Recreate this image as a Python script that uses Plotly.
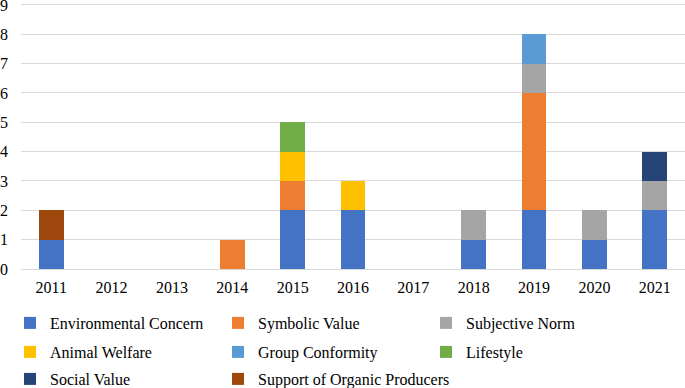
import plotly.graph_objects as go

years = ["2011", "2012", "2013", "2014", "2015", "2016", "2017", "2018", "2019", "2020", "2021"]
environmental_concern = [1, 0, 0, 0, 2, 2, 0, 1, 2, 1, 2]
symbolic_value = [0, 0, 0, 1, 1, 0, 0, 0, 4, 0, 0]
subjective_norm = [0, 0, 0, 0, 0, 0, 0, 1, 1, 1, 1]
animal_welfare = [0, 0, 0, 0, 1, 1, 0, 0, 0, 0, 0]
group_conformity = [0, 0, 0, 0, 0, 0, 0, 0, 1, 0, 0]
lifestyle = [0, 0, 0, 0, 1, 0, 0, 0, 0, 0, 0]
social_value = [0, 0, 0, 0, 0, 0, 0, 0, 0, 0, 1]
support_organic = [1, 0, 0, 0, 0, 0, 0, 0, 0, 0, 0]
y_ticks = [0, 1, 2, 3, 4, 5, 6, 7, 8, 9]

series = [
    ("Environmental Concern", environmental_concern, "#4472C4", "legend"),
    ("Symbolic Value", symbolic_value, "#ED7D31", "legend"),
    ("Subjective Norm", subjective_norm, "#A5A5A5", "legend"),
    ("Animal Welfare", animal_welfare, "#FFC000", "legend2"),
    ("Group Conformity", group_conformity, "#5B9BD5", "legend2"),
    ("Lifestyle", lifestyle, "#70AD47", "legend2"),
    ("Social Value", social_value, "#264478", "legend3"),
    ("Support of Organic Producers", support_organic, "#9E480E", "legend4"),
]

fig = go.Figure()
for name, vals, color, lg in series:
    fig.add_trace(go.Bar(
        x=years, y=vals, name=name, legend=lg,
        marker=dict(color=color, line=dict(width=0)),
    ))

font = dict(family="Liberation Serif", size=16, color="#000000")


def legend_row(y_center, x_left=10, entrywidth=163):
    return dict(
        orientation="h",
        xref="container", x=x_left / 685, xanchor="left",
        yref="container", y=1 - y_center / 388, yanchor="middle",
        entrywidth=entrywidth, entrywidthmode="pixels",
        font=font,
        traceorder="normal",
        itemwidth=30,
        bgcolor="rgba(0,0,0,0)",
    )


fig.update_layout(
    barmode="stack",
    bargap=0.59,
    width=685, height=388,
    margin=dict(l=21, r=0, t=2, b=119, autoexpand=False),
    paper_bgcolor="white", plot_bgcolor="white",
    font=font,
    showlegend=True,
    legend=legend_row(323),
    legend2=legend_row(352),
    legend3=legend_row(379),
    legend4=legend_row(379, x_left=218, entrywidth=0),
    xaxis=dict(
        type="category",
        showgrid=False,
        showline=False,
        ticks="",
        ticklabelstandoff=7,
        tickfont=font,
    ),
    yaxis=dict(
        range=[0, 9.1],
        tickvals=y_ticks,
        showgrid=True,
        gridcolor="#D9D9D9",
        gridwidth=1,
        zeroline=True,
        zerolinecolor="#D9D9D9",
        zerolinewidth=1,
        showline=False,
        ticks="",
        ticklabelstandoff=12,
        ticklabeloverflow="allow",
        tickfont=font,
    ),
)

fig.write_html(
    "out.html",
    config={"displayModeBar": False},
    post_script="document.body.style.margin='0';document.body.style.overflow='hidden';",
)
